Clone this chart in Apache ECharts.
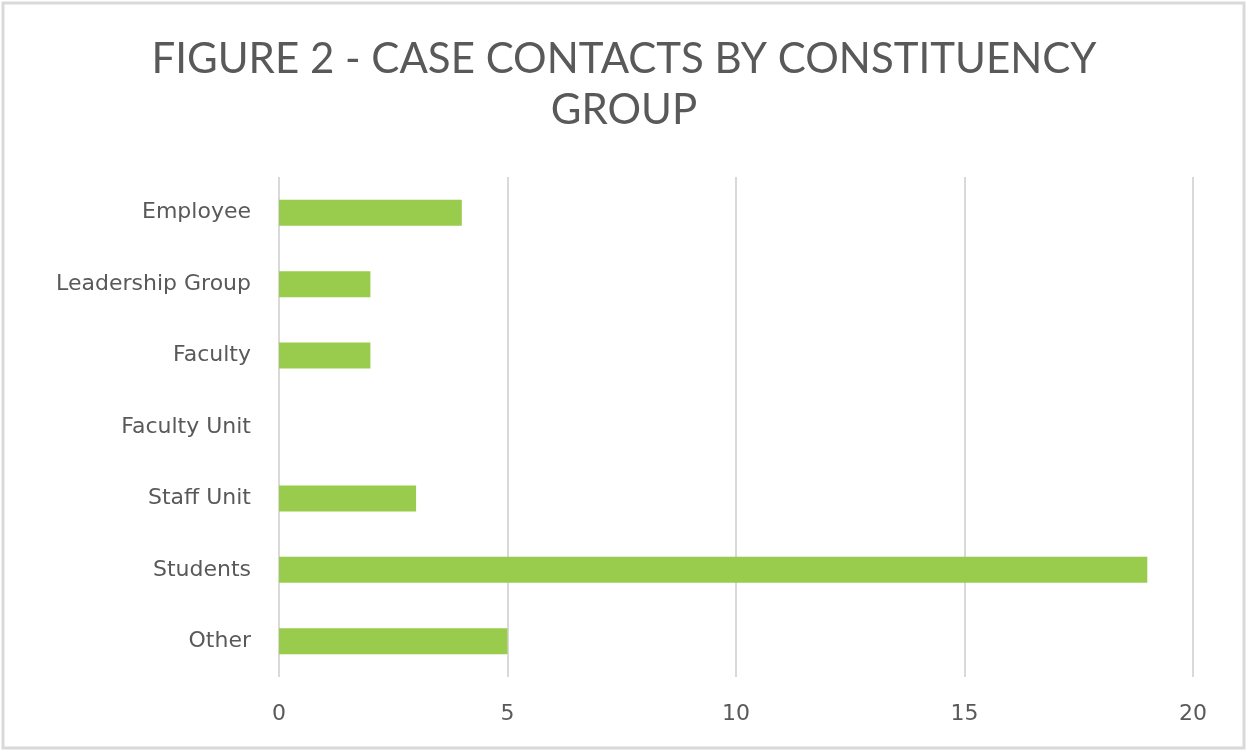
<!DOCTYPE html>
<html>
<head>
<meta charset="utf-8">
<script src="https://cdn.jsdelivr.net/npm/echarts@6/dist/echarts.min.js"></script>
<style>
  html, body { margin: 0; padding: 0; background: #fff; }
  #chart { width: 1248px; height: 752px; }
</style>
</head>
<body>
<div id="chart"></div>
<script>
// categories listed bottom to top, as the category axis draws them
var categories = ['Other', 'Students', 'Staff Unit', 'Faculty Unit', 'Faculty', 'Leadership Group', 'Employee'];
var contacts = [5, 19, 3, 0, 2, 2, 4];
var xTicks = [0, 5, 10, 15, 20];

var chart = echarts.init(document.getElementById('chart'));
var option = {
    backgroundColor: '#fff',
    title: {
        text: 'FIGURE 2 - CASE CONTACTS BY CONSTITUENCY\nGROUP',
        left: 'center',
        top: 29,
        textStyle: {
            fontFamily: 'Lato',
            fontWeight: 'normal',
            fontSize: 42,
            lineHeight: 51,
            color: '#595959'
        }
    },
    graphic: [{
        type: 'rect',
        shape: {x: 3, y: 3, width: 1241, height: 745},
        style: {fill: 'none', stroke: '#d9d9d9', lineWidth: 3},
        silent: true
    }],
    grid: {
        left: 279,
        right: 55,
        top: 177,
        bottom: 75
    },
    xAxis: {
        type: 'value',
        min: xTicks[0],
        max: xTicks[xTicks.length - 1],
        interval: 5,
        axisLine: {show: false},
        axisTick: {show: false},
        splitLine: {lineStyle: {color: '#d9d9d9', width: 2}},
        axisLabel: {
            fontFamily: 'DejaVu Sans',
            fontSize: 22,
            color: '#595959',
            margin: 26
        }
    },
    yAxis: {
        type: 'category',
        data: categories,
        axisLine: {show: false},
        axisTick: {show: false},
        axisLabel: {
            fontFamily: 'DejaVu Sans',
            fontSize: 22,
            color: '#595959',
            margin: 28,
            padding: [4, 0, 0, 0]
        }
    },
    series: [
        {
            name: 'Contacts',
            type: 'bar',
            data: contacts,
            barWidth: 26,
            itemStyle: {color: '#99cc4c'}
        }
    ]
};
chart.setOption(option);
</script>
</body>
</html>
